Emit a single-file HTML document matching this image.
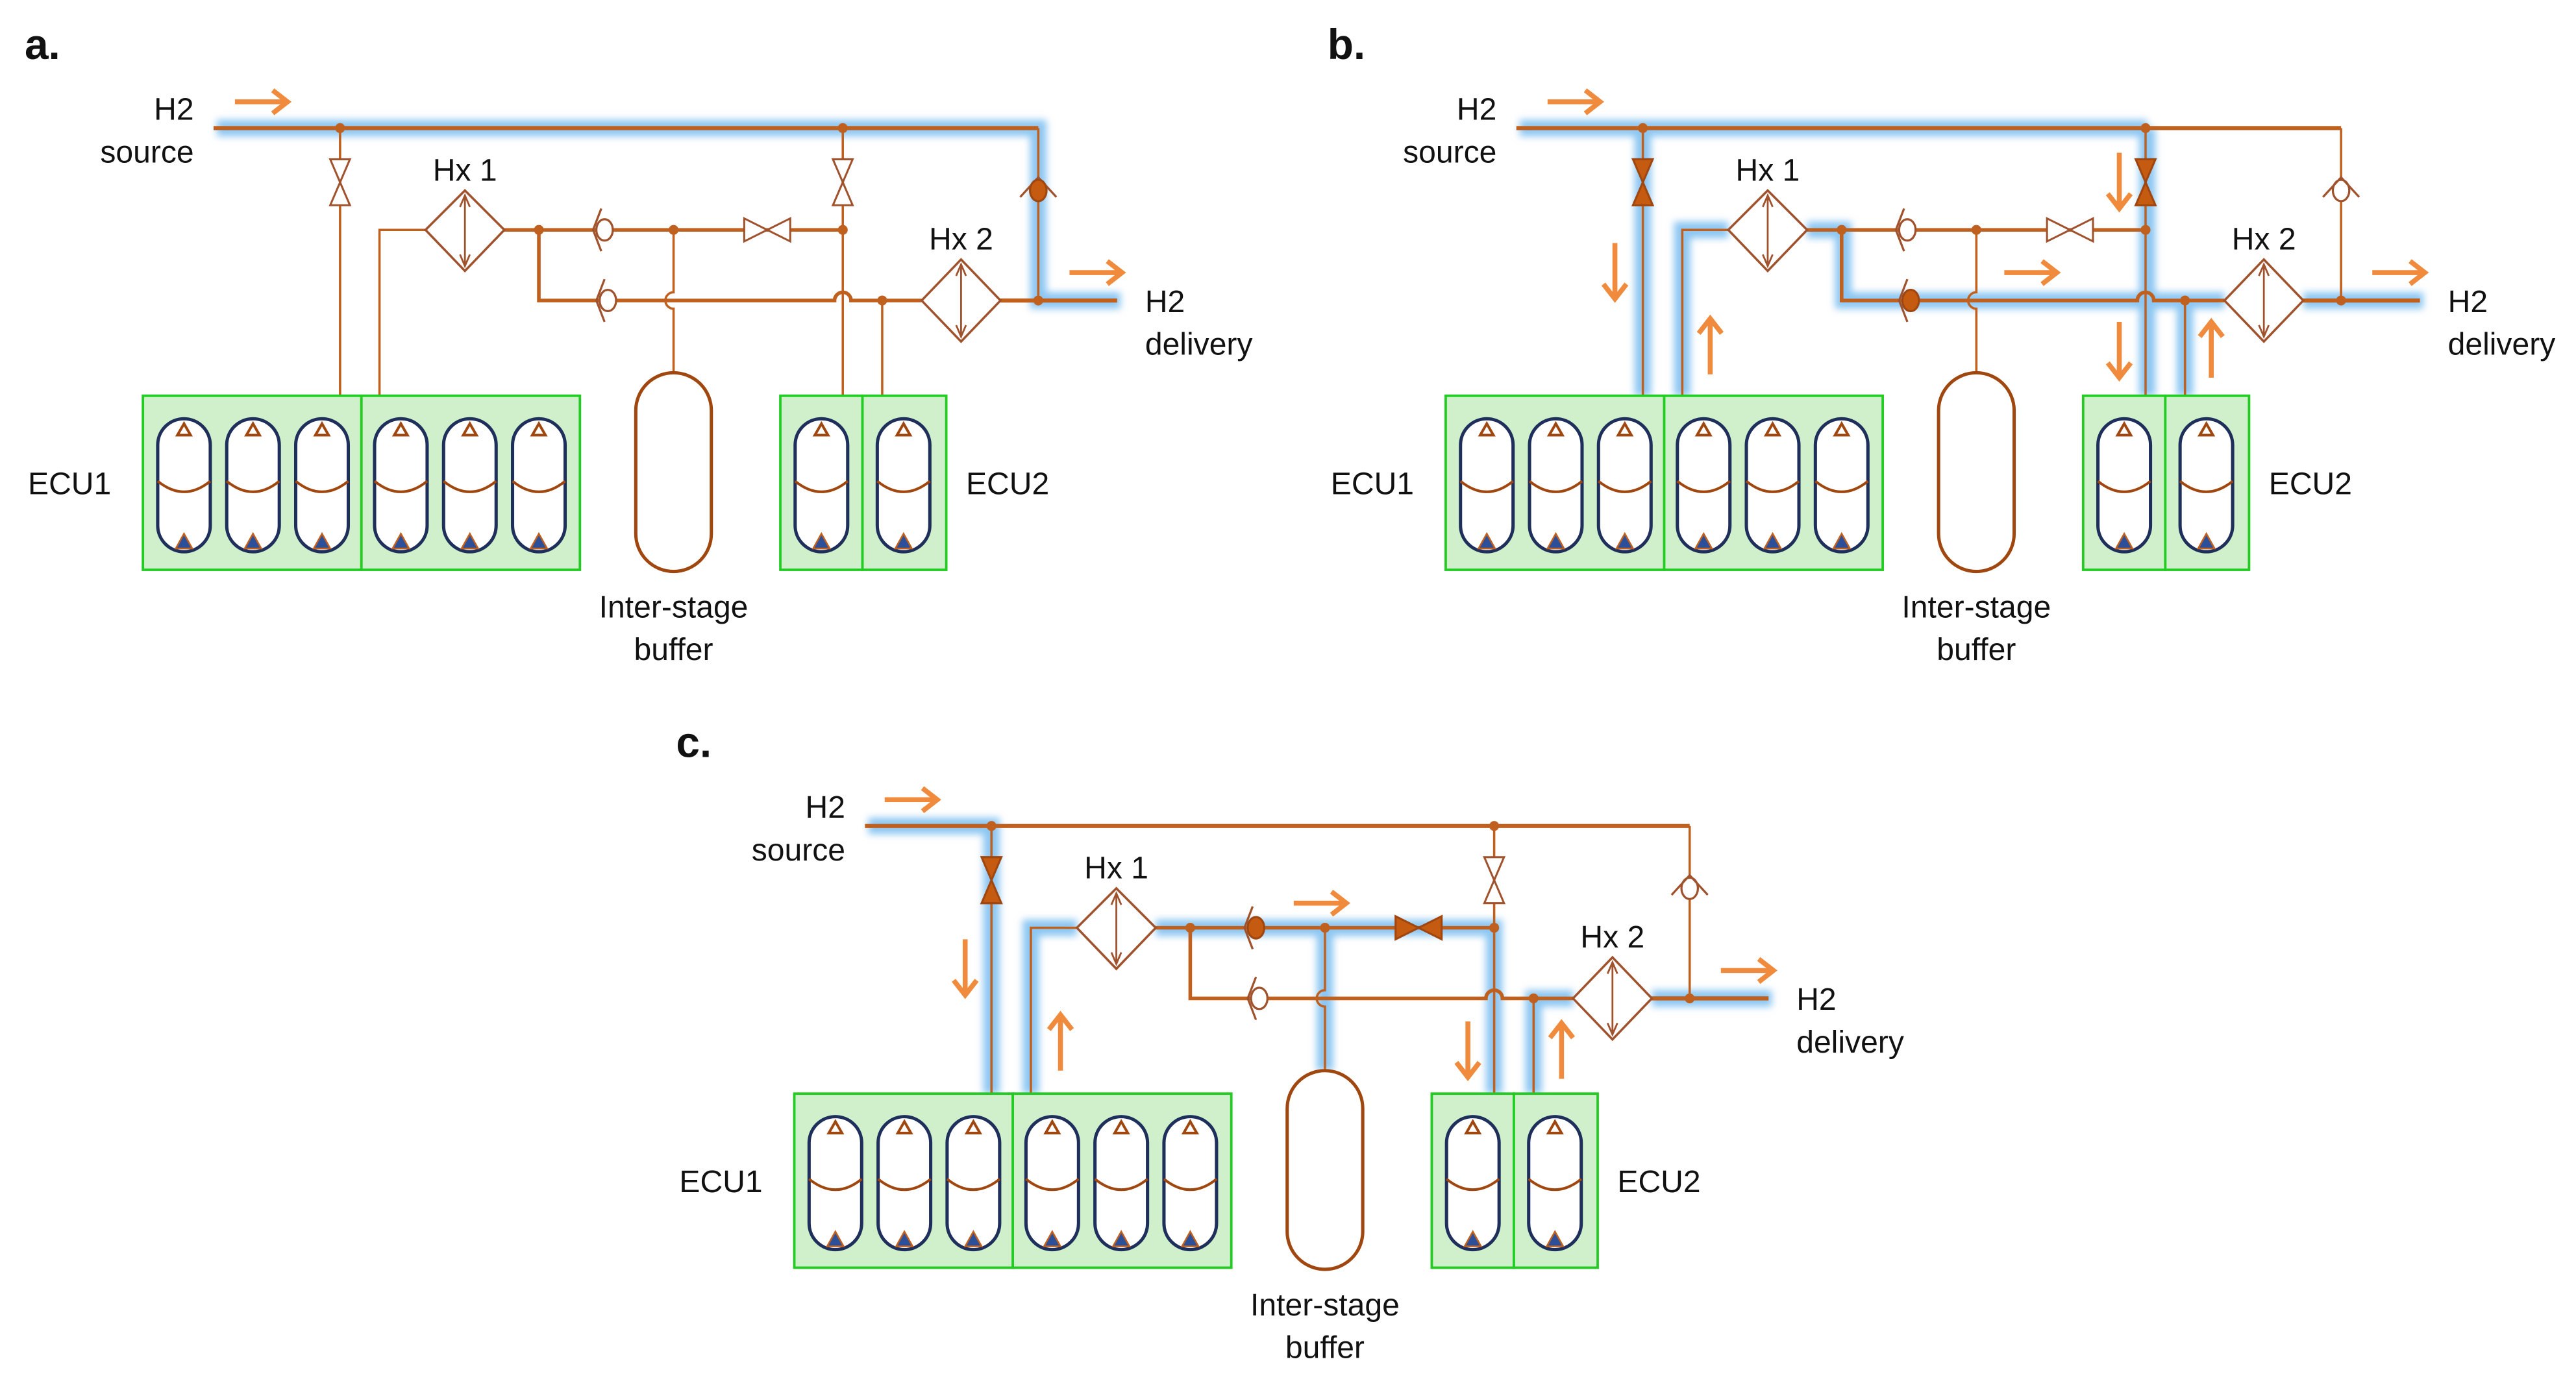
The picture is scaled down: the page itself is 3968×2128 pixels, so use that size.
<!DOCTYPE html>
<html><head><meta charset="utf-8"><style>
html,body{margin:0;padding:0;background:#fff;}
svg{display:block;}
text{font-family:"Liberation Sans",sans-serif;font-size:19px;fill:#111;}
</style></head><body>
<svg width="3968" height="2128" viewBox="0 0 1568 841" preserveAspectRatio="none" xmlns="http://www.w3.org/2000/svg">
<defs>
<filter id="blur" x="-20%" y="-20%" width="140%" height="140%"><feGaussianBlur stdDeviation="2.2"/></filter>
<g id="tank">
  <rect x="-16" y="0" width="32" height="81" rx="16" fill="#fff" stroke="#1f2f5c" stroke-width="2"/>
  <polygon points="0,3 -4,10 4,10" fill="none" stroke="#a0460f" stroke-width="1.6"/>
  <polygon points="0,70 -5,79 5,79" fill="#2c4f9a"/>
  <path d="M-16,38 Q0,51 16,38" fill="none" stroke="#a0460f" stroke-width="1.6"/>
</g>
<g id="base" fill="none" stroke="#c0601f">
  <!-- pipes -->
  <path d="M130,78 H632" stroke-width="2.5"/>
  <path d="M632,78 V183" stroke-width="1.4"/>
  <path d="M609,183 H680" stroke-width="2.5"/>
  <path d="M207,78 V241" stroke-width="1.4"/>
  <path d="M231,241 V140 H259" stroke-width="1.4"/>
  <path d="M307,140 H513" stroke-width="2.2"/>
  <path d="M328,140 V183 H508 a5,5 0 0 1 10,0 H561" stroke-width="2.2"/>
  <path d="M410,140 V178 a5,5 0 0 0 0,10 V227" stroke-width="1.4"/>
  <path d="M513,78 V241" stroke-width="1.4"/>
  <path d="M537,183 V241" stroke-width="1.4"/>
  <!-- Hx1 -->
  <polygon points="259,140 283,116 307,140 283,165" fill="#fff" stroke="#a0522d" stroke-width="1.4"/>
  <path d="M283,120 V161 M280,126 L283,119 L286,126 M280,155 L283,162 L286,155" stroke="#a0522d" stroke-width="1.1"/>
  <!-- Hx2 -->
  <polygon points="561,183 585,158 609,183 585,208" fill="#fff" stroke="#a0522d" stroke-width="1.4"/>
  <path d="M585,162 V204 M582,168 L585,161 L588,168 M582,198 L585,205 L588,198" stroke="#a0522d" stroke-width="1.1"/>
  <!-- valves vertical -->
  <g stroke="#a0522d" stroke-width="1.2" fill="#fff">
    <polygon points="201,97 213,97 207,111"/><polygon points="201,125 213,125 207,111"/>
    <polygon points="507,97 519,97 513,111"/><polygon points="507,125 519,125 513,111"/>
    <polygon points="453,133 453,147 467,140"/><polygon points="481,133 481,147 467,140"/>
  </g>
  <!-- check valves -->
  <g stroke="#a0522d" stroke-width="1.3" fill="#fff">
    <ellipse cx="368" cy="140" rx="5" ry="6.5"/><polyline points="366,127 361,140 366,153" fill="none"/>
    <ellipse cx="370" cy="183" rx="5" ry="6.5"/><polyline points="368,170 363,183 368,196" fill="none"/>
    <ellipse cx="632" cy="116" rx="5" ry="6.5"/><polyline points="621,120 632,108 643,120" fill="none"/>
  </g>
  <!-- dots -->
  <g fill="#c0601f" stroke="none">
    <circle cx="207" cy="78" r="3"/><circle cx="513" cy="78" r="3"/>
    <circle cx="328" cy="140" r="3"/><circle cx="410" cy="140" r="3"/><circle cx="513" cy="140" r="3"/>
    <circle cx="537" cy="183" r="3"/><circle cx="632" cy="183" r="3"/>
  </g>
  <!-- ECU boxes -->
  <rect x="87" y="241" width="133" height="106" fill="#d0f0cc" stroke="#22cc22" stroke-width="1.5"/>
  <rect x="220" y="241" width="133" height="106" fill="#d0f0cc" stroke="#22cc22" stroke-width="1.5"/>
  <rect x="475" y="241" width="50" height="106" fill="#d0f0cc" stroke="#22cc22" stroke-width="1.5"/>
  <rect x="525" y="241" width="51" height="106" fill="#d0f0cc" stroke="#22cc22" stroke-width="1.5"/>
  <use href="#tank" x="112" y="255"/><use href="#tank" x="154" y="255"/><use href="#tank" x="196" y="255"/>
  <use href="#tank" x="244" y="255"/><use href="#tank" x="286" y="255"/><use href="#tank" x="328" y="255"/>
  <use href="#tank" x="500" y="255"/><use href="#tank" x="550" y="255"/>
  <!-- buffer -->
  <rect x="387" y="227" width="46" height="121" rx="23" fill="#fff" stroke="#a0460f" stroke-width="2"/>
</g>
<g id="arrowR"><path d="M0,0 H30 M23,-7 L32,0 L23,7" fill="none" stroke="#f08a3c" stroke-width="3"/></g>
<g id="arrowD"><path d="M0,0 V32 M-7,25 L0,34 L7,25" fill="none" stroke="#f08a3c" stroke-width="3"/></g>
<g id="arrowU"><path d="M0,0 V-32 M-7,-25 L0,-34 L7,-25" fill="none" stroke="#f08a3c" stroke-width="3"/></g>
<g id="labels">
</g>
</defs>

<!-- Panel a -->
<g>
  <g filter="url(#blur)" fill="none" stroke="#8cc6f2" stroke-width="10" stroke-linejoin="miter">
    <path d="M132,78 H632 V183 H682"/>
  </g>
  <use href="#base"/>
  <g fill="#c55a11" stroke="#a0460f" stroke-width="1.2">
    <ellipse cx="632" cy="116" rx="5" ry="6.5"/>
  </g>
  <use href="#arrowR" x="143" y="62"/><use href="#arrowR" x="651" y="166"/>
  <text x="15" y="36" style="font-weight:bold;font-size:26px">a.</text>
  <text x="118" y="73" text-anchor="end">H2</text>
  <text x="118" y="99" text-anchor="end">source</text>
  <text x="283" y="110" text-anchor="middle">Hx 1</text>
  <text x="585" y="152" text-anchor="middle">Hx 2</text>
  <text x="697" y="190">H2</text>
  <text x="697" y="216">delivery</text>
  <text x="17" y="301">ECU1</text>
  <text x="588" y="301">ECU2</text>
  <text x="410" y="376" text-anchor="middle">Inter-stage</text>
  <text x="410" y="402" text-anchor="middle">buffer</text>
</g>

<!-- Panel b -->
<g transform="translate(793,0)">
  <g filter="url(#blur)" fill="none" stroke="#8cc6f2" stroke-width="10">
    <path d="M132,78 H514"/>
    <path d="M207,78 V241"/><path d="M514,78 V241"/>
    <path d="M231,241 V140 H259"/>
    <path d="M307,140 H329 V183 H561"/>
    <path d="M537,183 V241"/>
    <path d="M609,183 H682"/>
  </g>
  <use href="#base"/>
  <g fill="#c55a11" stroke="#a0460f" stroke-width="1.2">
    <polygon points="201,97 213,97 207,111"/><polygon points="201,125 213,125 207,111"/>
    <polygon points="507,97 519,97 513,111"/><polygon points="507,125 519,125 513,111"/>
    <ellipse cx="370" cy="183" rx="5" ry="6.5"/>
  </g>
  <use href="#arrowR" x="149" y="62"/><use href="#arrowR" x="651" y="166"/>
  <use href="#arrowD" x="190" y="148"/><use href="#arrowU" x="248" y="228"/>
  <use href="#arrowD" x="497" y="93"/><use href="#arrowD" x="497" y="196"/>
  <use href="#arrowU" x="553" y="230"/><use href="#arrowR" x="427" y="166"/>
  <text x="15" y="36" style="font-weight:bold;font-size:26px">b.</text>
  <text x="118" y="73" text-anchor="end">H2</text>
  <text x="118" y="99" text-anchor="end">source</text>
  <text x="283" y="110" text-anchor="middle">Hx 1</text>
  <text x="585" y="152" text-anchor="middle">Hx 2</text>
  <text x="697" y="190">H2</text>
  <text x="697" y="216">delivery</text>
  <text x="17" y="301">ECU1</text>
  <text x="588" y="301">ECU2</text>
  <text x="410" y="376" text-anchor="middle">Inter-stage</text>
  <text x="410" y="402" text-anchor="middle">buffer</text>
</g>

<!-- Panel c -->
<g transform="translate(396.5,425)">
  <g filter="url(#blur)" fill="none" stroke="#8cc6f2" stroke-width="10">
    <path d="M132,78 H207 V241"/>
    <path d="M231,241 V140 H259"/>
    <path d="M307,140 H513 V241"/>
    <path d="M410,140 V227"/>
    <path d="M537,241 V183 H561"/>
    <path d="M609,183 H682"/>
  </g>
  <use href="#base"/>
  <g fill="#c55a11" stroke="#a0460f" stroke-width="1.2">
    <polygon points="201,97 213,97 207,111"/><polygon points="201,125 213,125 207,111"/>
    <polygon points="453,133 453,147 467,140"/><polygon points="481,133 481,147 467,140"/>
    <ellipse cx="368" cy="140" rx="5" ry="6.5"/>
  </g>
  <use href="#arrowR" x="142" y="62"/><use href="#arrowR" x="651" y="166"/>
  <use href="#arrowD" x="191" y="147"/><use href="#arrowU" x="249" y="227"/>
  <use href="#arrowR" x="391" y="125"/>
  <use href="#arrowD" x="497" y="197"/><use href="#arrowU" x="554" y="232"/>
  <text x="15" y="36" style="font-weight:bold;font-size:26px">c.</text>
  <text x="118" y="73" text-anchor="end">H2</text>
  <text x="118" y="99" text-anchor="end">source</text>
  <text x="283" y="110" text-anchor="middle">Hx 1</text>
  <text x="585" y="152" text-anchor="middle">Hx 2</text>
  <text x="697" y="190">H2</text>
  <text x="697" y="216">delivery</text>
  <text x="17" y="301">ECU1</text>
  <text x="588" y="301">ECU2</text>
  <text x="410" y="376" text-anchor="middle">Inter-stage</text>
  <text x="410" y="402" text-anchor="middle">buffer</text>
</g>
</svg>
</body></html>
